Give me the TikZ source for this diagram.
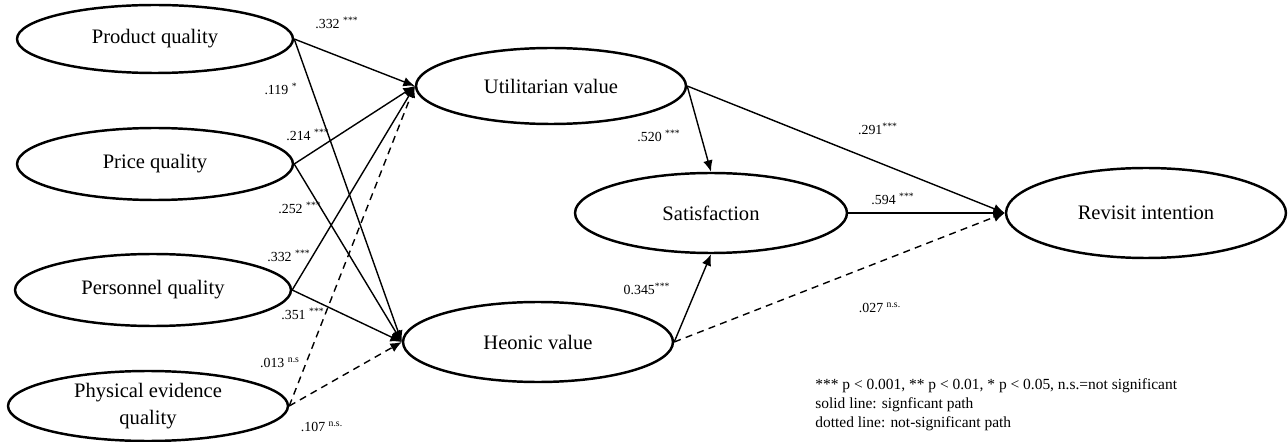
\documentclass[tikz,border=0pt]{standalone}
\usepackage{fontspec}
\setmainfont{Liberation Serif}
\usepackage{tikz}
\usetikzlibrary{arrows.meta,shapes.geometric}
\def\lbl#1#2{#1\textsuperscript{#2}}

\begin{document}
\begin{tikzpicture}[x=0.02cm,y=-0.02cm,
		construct/.style={draw,ellipse,line width=1.4pt,inner sep=0pt,font=\fontsize{11.7}{15}\selectfont},
		path/.style={line width=0.8pt,-{Latex[length=6.5pt,width=5.5pt]}},
		nspath/.style={path,dash pattern=on 4pt off 3pt},
		coef/.style={font=\fontsize{7.9}{9}\selectfont}]
		%%%%% START %%%%%
		\useasboundingbox (0,0) rectangle (1288,442);
		
		\node[construct,minimum width=5.52cm,minimum height=1.36cm] (pq) at (155,39) {Product quality};
		\node[construct,minimum width=5.52cm,minimum height=1.44cm] (prq) at (155,164) {Price quality};
		\node[construct,minimum width=5.52cm,minimum height=1.44cm] (peq) at (153,290) {Personnel quality};
		\node[construct,minimum width=5.6cm,minimum height=1.4cm,align=center] (phq) at (148,406) {Physical evidence\\quality};
		
		\node[construct,minimum width=5.4cm,minimum height=1.52cm] (uv) at (551,86) {Utilitarian value};
		\node[construct,minimum width=5.4cm,minimum height=1.6cm] (hv) at (538,342) {Heonic value};
		\node[construct,minimum width=5.44cm,minimum height=1.6cm] (sat) at (711,213) {Satisfaction};
		\node[construct,minimum width=5.6cm,minimum height=1.8cm] (ri) at (1146,213) {Revisit intention};
		
		\draw[path] (pq.east) -- (uv.west);
		\draw[path] (pq.east) -- (hv.west);
		\draw[path] (prq.east) -- (uv.west);
		\draw[path] (prq.east) -- (hv.west);
		\draw[path] (peq.east) -- (uv.west);
		\draw[path] (peq.east) -- (hv.west);
		\draw[nspath] (phq.east) -- (uv.west);
		\draw[nspath] (phq.east) -- (hv.west);
		
		\draw[path] (uv.east) -- (sat.north);
		\draw[path] (hv.east) -- (sat.south);
		\draw[path] (uv.east) -- (ri.west);
		\draw[path] (sat.east) -- (ri.west);
		\draw[nspath] (hv.east) -- (ri.west);
		
		\node[coef] (c1) at (337,23) {\lbl{.332 }{***}};
		\node[coef] (c2) at (281,89) {\lbl{.119 }{*}};
		\node[coef] (c3) at (308,135) {\lbl{.214 }{***}};
		\node[coef] (c4) at (300,208) {\lbl{.252 }{***}};
		\node[coef] (c5) at (289,256) {\lbl{.332 }{***}};
		\node[coef] (c6) at (303,314) {\lbl{.351 }{***}};
		\node[coef] (c7) at (280,363) {\lbl{.013 }{n.s}};
		\node[coef] (c8) at (322,427) {\lbl{.107 }{n.s.}};
		\node[coef] (c9) at (659,136) {\lbl{.520 }{***}};
		\node[coef] (c10) at (647,289) {\lbl{0.345}{***}};
		\node[coef] (c11) at (878,129) {\lbl{.291}{***}};
		\node[coef] (c12) at (893,199) {\lbl{.594 }{***}};
		\node[coef] (c13) at (880,308) {\lbl{.027 }{n.s.}};
		
		\node[coef,font=\fontsize{8.8}{10.8}\selectfont,anchor=west,align=left,inner sep=0pt] (note) at (815,405)
			{*** p < 0.001, ** p < 0.01, * p < 0.05, n.s.=not significant\\solid line: signficant path\\dotted line: not-significant path};
		%%%%% END %%%%%
\end{tikzpicture}
\end{document}
